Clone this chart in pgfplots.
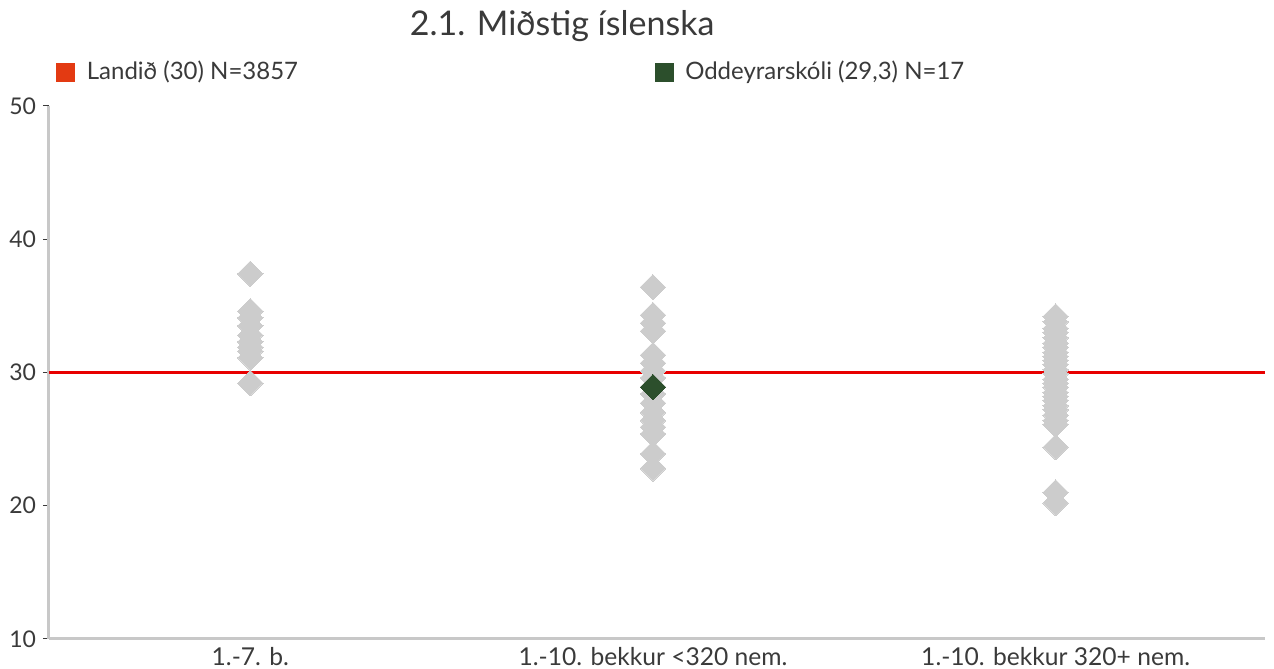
\documentclass[border=0pt]{standalone}
\usepackage{fontspec}
\setmainfont{Lato}
\usepackage{pgfplots}
\pgfplotsset{compat=1.18}
\definecolor{ptgrey}{HTML}{CCCCCC}
\definecolor{axgrey}{HTML}{C8C8C8}
\definecolor{landred}{HTML}{E33A12}
\definecolor{linered}{HTML}{E80000}
\definecolor{schgreen}{HTML}{2C4F2C}
\definecolor{txt}{HTML}{3A3A3A}
\begin{document}
\begin{tikzpicture}
\begin{axis}[
  scale only axis, width=608pt, height=266.5pt,
  xmin=-0.5, xmax=2.52, ymin=10, ymax=50,
  axis x line*=bottom, axis y line*=left,
  axis line style={axgrey, line width=1.5pt, -},
  xtick={0,1,2},
  xticklabels={1.-7. b.,1.-10. bekkur <320 nem.,1.-10. bekkur 320+ nem.},
  x tick style={draw=none},
  xticklabel style={font=\fontsize{12.3}{14}\selectfont, yshift=2.5pt},
  ytick={10,20,30,40,50},
  y tick style={txt, line width=0.5pt},
  tick align=outside, major tick length=3pt,
  tick label style={text=txt},
  yticklabel style={font=\fontsize{11.5}{13}\selectfont},
  /pgf/number format/assume math mode=true,
  title={2.1. Miðstig íslenska},
  title style={at={(rel axis cs:0.422,1)}, anchor=base, yshift=29pt,
    font=\fontsize{17}{20}\selectfont, text=txt},
  legend columns=2,
  legend style={at={(rel axis cs:0.0058,1)}, anchor=west, yshift=17pt,
    draw=none, fill=none, inner sep=0pt, font=\fontsize{12}{14}\selectfont,
    text=txt, cells={anchor=west}},
  clip=false,
]
\addlegendimage{legend image code/.code={\path[draw=none] (0pt,0pt) -- (13pt,0pt);\fill[landred] (0pt,-4.5pt) rectangle (9pt,4.5pt);}}
\addlegendentry{\makebox[282pt][l]{Landið (30) N=3857}}
\addlegendimage{legend image code/.code={\path[draw=none] (0pt,0pt) -- (13pt,0pt);\fill[schgreen] (0pt,-4.5pt) rectangle (9pt,4.5pt);}}
\addlegendentry{Oddeyrarskóli (29,3) N=17}

\addplot[linered, line width=1.5pt, forget plot] coordinates {(-0.5,30) (2.52,30)};

\addplot[only marks, color=ptgrey, mark=square*, mark size=4.5pt, forget plot,
  mark options={rotate=45, draw=ptgrey, fill=ptgrey, line width=0pt}] coordinates {
 (0,37.4) (0,34.6) (0,34.1) (0,33.5) (0,32.8) (0,32.3) (0,31.9) (0,31.6) (0,31.1) (0,29.2)
 (1,36.4) (1,34.3) (1,33.7) (1,33.1) (1,31.3) (1,30.7) (1,30.1) (1,29.6) (1,28.4) (1,27.7)
 (1,27.0) (1,26.4) (1,25.9) (1,25.4) (1,23.9) (1,22.8)
 (2,34.2) (2,33.8) (2,33.3) (2,33.0) (2,32.6) (2,32.2) (2,31.9) (2,31.5) (2,31.2) (2,30.9)
 (2,30.6) (2,30.2) (2,29.9) (2,29.5) (2,29.2) (2,28.9) (2,28.5) (2,28.2) (2,27.9) (2,27.5)
 (2,27.2) (2,26.8) (2,26.4) (2,26.1) (2,24.4) (2,21.0) (2,20.2)
};
\addplot[only marks, color=schgreen, mark=square*, mark size=4.5pt, forget plot,
  mark options={rotate=45, draw=schgreen, fill=schgreen, line width=0pt}] coordinates {(1,28.9)};

\coordinate (bl) at (rel axis cs:0,0);
\coordinate (tr) at (rel axis cs:1,1);
\end{axis}
\pgfresetboundingbox
\path ([shift={(-24.5pt,-15pt)}]bl) rectangle ([shift={(4.5pt,53pt)}]tr);
\end{tikzpicture}
\end{document}
